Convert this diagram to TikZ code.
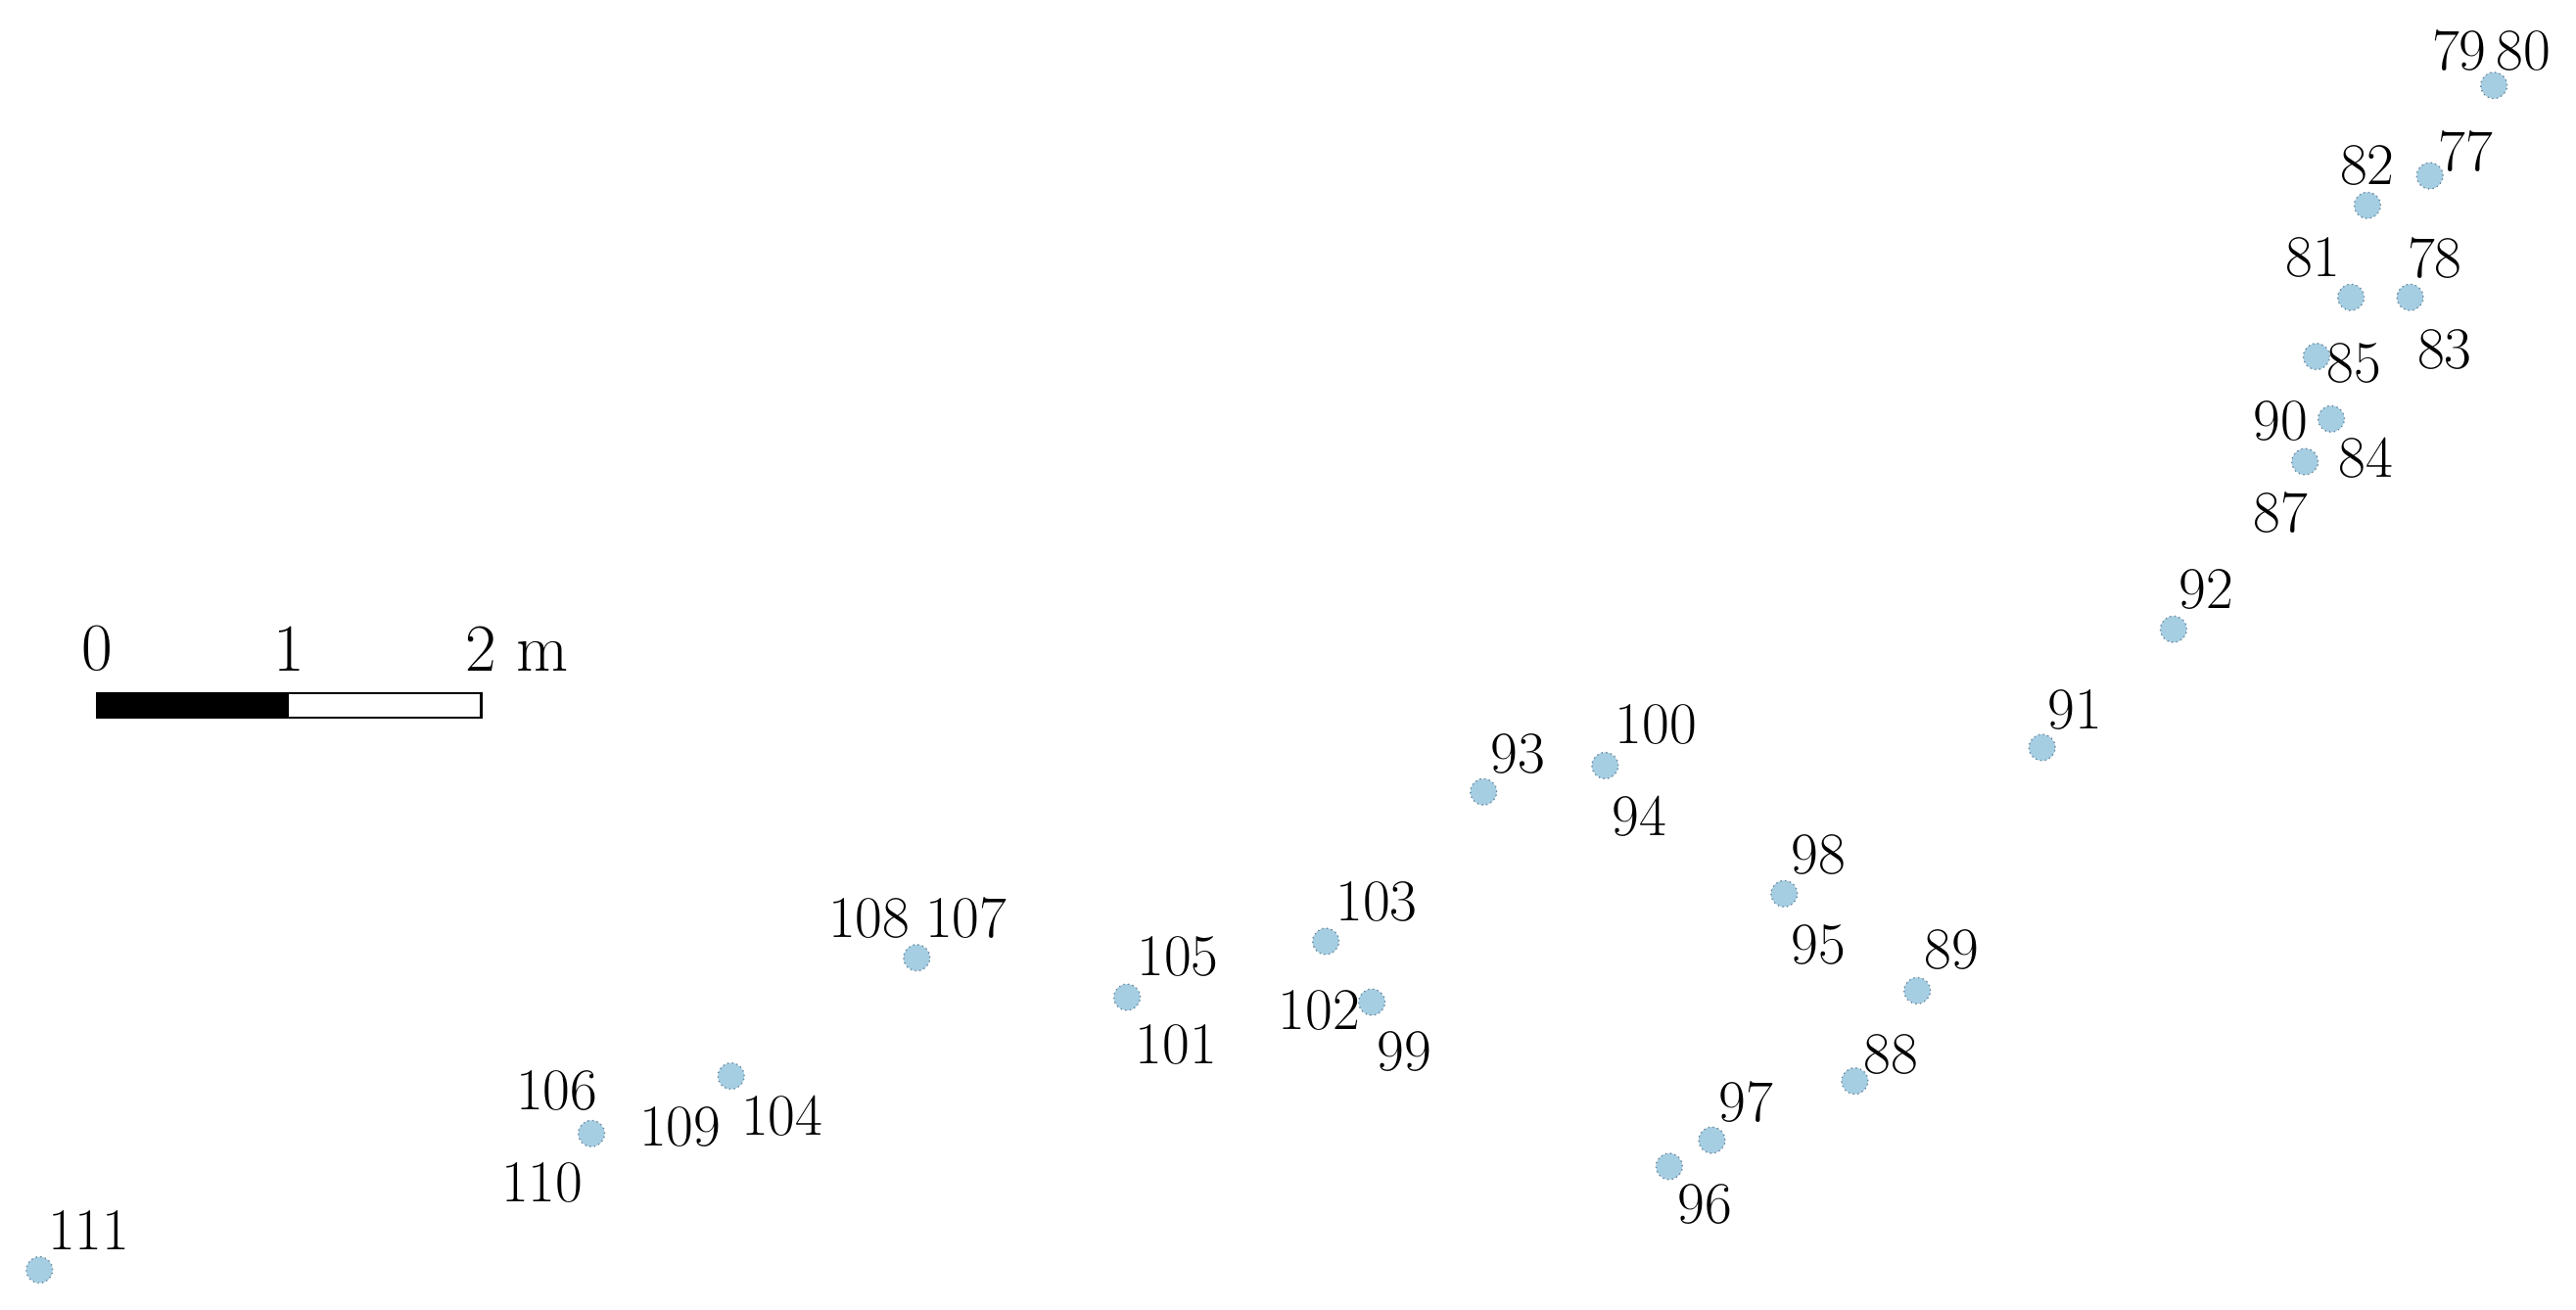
\documentclass[tikz,border=0pt]{standalone}
\definecolor{ptblue}{RGB}{166,206,227}
\definecolor{ptedge}{RGB}{105,135,155}
\begin{document}
\begin{tikzpicture}[x=0.5pt,y=-0.5pt,
  pt/.style={circle, fill=ptblue, draw=ptedge, densely dotted, line width=0.4pt, minimum size=8pt, inner sep=0pt},
  lab/.style={font=\fontsize{18}{18}\selectfont, inner sep=0pt},
  sclab/.style={font=\fontsize{20.5}{20.5}\selectfont, inner sep=0pt}]
\useasboundingbox (0,0) rectangle (1568,797);
% points
\node[pt] (d80) at (1518,52) {};
\node[pt] (d77) at (1479,107) {};
\node[pt] (d82) at (1441,125) {};
\node[pt] (d81) at (1431,181) {};
\node[pt] (d78) at (1467,181) {};
\node[pt] (d85) at (1410,217) {};
\node[pt] (d90) at (1419,255) {};
\node[pt] (d87) at (1403,281) {};
\node[pt] (d92) at (1323,383) {};
\node[pt] (d91) at (1243,455) {};
\node[pt] (d100) at (977,466) {};
\node[pt] (d93) at (903,482) {};
\node[pt] (d98) at (1086,544) {};
\node[pt] (d89) at (1167,603) {};
\node[pt] (d88) at (1129,658) {};
\node[pt] (d97) at (1042,694) {};
\node[pt] (d96) at (1016,710) {};
\node[pt] (d103) at (807,573) {};
\node[pt] (d99) at (835,610) {};
\node[pt] (d105) at (686,607) {};
\node[pt] (d107) at (558,583) {};
\node[pt] (d104) at (445,655) {};
\node[pt] (d106) at (360,690) {};
\node[pt] (d111) at (24,773) {};
% labels
\node[lab] (l79) at (1497,31) {79};
\node[lab] (l80) at (1536,31) {80};
\node[lab] (l77) at (1501,92) {77};
\node[lab] (l82) at (1441,101) {82};
\node[lab] (l81) at (1408,157) {81};
\node[lab] (l78) at (1482,157) {78};
\node[lab] (l83) at (1488,213) {83};
\node[lab] (l85) at (1433,221) {85};
\node[lab] (l90) at (1388,256) {90};
\node[lab] (l84) at (1440,279) {84};
\node[lab] (l87) at (1388,312) {87};
\node[lab] (l92) at (1343,359) {92};
\node[lab] (l91) at (1263,432) {91};
\node[lab] (l100) at (1008,441) {100};
\node[lab] (l93) at (924,459) {93};
\node[lab] (l94) at (998,497) {94};
\node[lab] (l98) at (1107,520) {98};
\node[lab] (l95) at (1107,575) {95};
\node[lab] (l89) at (1188,578) {89};
\node[lab] (l88) at (1151,642) {88};
\node[lab] (l97) at (1063,671) {97};
\node[lab] (l96) at (1038,733) {96};
\node[lab] (l103) at (838,549) {103};
\node[lab] (l105) at (717,582) {105};
\node[lab] (l102) at (803,615) {102};
\node[lab] (l99) at (855,640) {99};
\node[lab] (l101) at (716,636) {101};
\node[lab] (l108) at (529,559) {108};
\node[lab] (l107) at (588,559) {107};
\node[lab] (l106) at (339,664) {106};
\node[lab] (l109) at (414,686) {109};
\node[lab] (l104) at (476,679) {104};
\node[lab] (l110) at (330,720) {110};
\node[lab] (l111) at (54,749) {111};
% scale bar
\fill[black] (59,422) rectangle (176,437);
\draw[line width=0.7pt] (59,422) rectangle (293,437);
\node[sclab] (s0) at (59,395) {0};
\node[sclab] (s1) at (176,395) {1};
\node[sclab, anchor=west] (s2) at (283,395) {2 m};
\end{tikzpicture}
\end{document}
